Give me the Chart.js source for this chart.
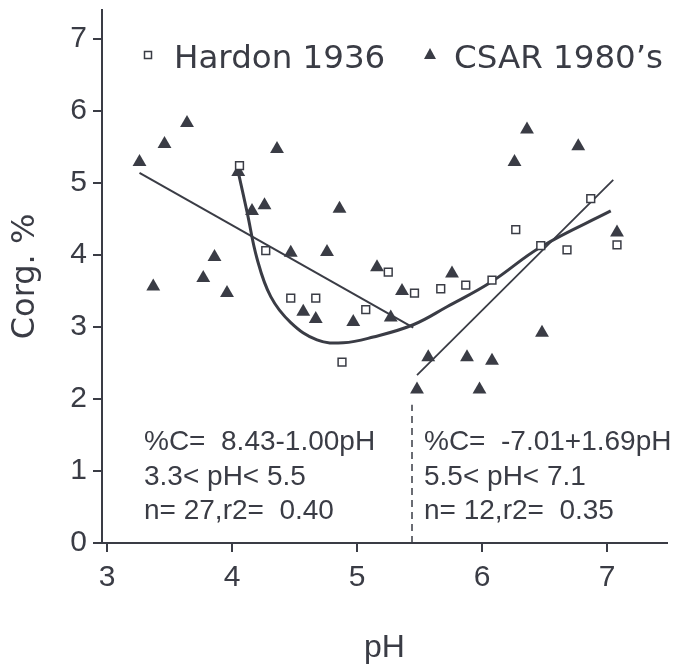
<!DOCTYPE html>
<html>
<head>
<meta charset="utf-8">
<script src="https://cdn.jsdelivr.net/npm/chart.js@4.4.1/dist/chart.umd.min.js"></script>
<style>
  html, body { margin: 0; padding: 0; background: #fff; }
  #wrap { width: 675px; height: 667px; }
</style>
</head>
<body>
<div id="wrap"><canvas id="chart" width="675" height="667"></canvas></div>
<script>
// Hardon 1936 (open squares)
const hardonPH = [4.06, 4.27, 4.47, 4.67, 4.88, 5.07, 5.25, 5.46, 5.67, 5.87, 6.08, 6.27, 6.47, 6.68, 6.87, 7.08];
const hardonC  = [5.24, 4.06, 3.40, 3.40, 2.51, 3.24, 3.76, 3.47, 3.53, 3.58, 3.65, 4.35, 4.13, 4.07, 4.78, 4.14];

// CSAR 1980's (filled triangles)
const csarPH = [3.26, 3.37, 3.46, 3.64, 3.77, 3.86, 3.96, 4.05, 4.16, 4.26, 4.36, 4.47, 4.57, 4.67, 4.76, 4.86,
                4.97, 5.16, 5.27, 5.36, 5.48, 5.57, 5.76, 5.88, 5.98, 6.08, 6.26, 6.36, 6.48, 6.77, 7.08];
const csarC  = [5.29, 3.56, 5.54, 5.83, 3.68, 3.97, 3.47, 5.15, 4.61, 4.69, 5.47, 4.03, 3.21, 3.11, 4.04, 4.64,
                3.07, 3.83, 3.13, 3.50, 2.13, 2.58, 3.74, 2.58, 2.13, 2.53, 5.29, 5.74, 2.92, 5.51, 4.31];

// regression lines (end points)
const fitLowPH  = [3.26, 5.45];
const fitLowC   = [5.14, 2.99];
const fitHighPH = [5.48, 7.05];
const fitHighC  = [2.33, 5.04];

// hand-drawn trend curve
const curvePH = [4.05, 4.12, 4.20, 4.31, 4.47, 4.68, 4.89, 5.13, 5.45, 5.72, 6.07, 6.47, 7.03];
const curveC  = [5.15, 4.60, 3.95, 3.42, 3.06, 2.82, 2.78, 2.86, 3.03, 3.28, 3.62, 4.11, 4.61];

// dashed divider
const dividerPH = [5.44, 5.44];
const dividerC  = [0, 1.92];

const xTicks = [3, 4, 5, 6, 7];
const yTicks = [0, 1, 2, 3, 4, 5, 6, 7];
const seriesNames = ['Hardon 1936', "CSAR 1980\u2019s"];
const leftNote  = ['%C=  8.43-1.00pH', '3.3< pH< 5.5', 'n= 27,r2=  0.40'];
const rightNote = ['%C=  -7.01+1.69pH', '5.5< pH< 7.1', 'n= 12,r2=  0.35'];

const ink = '#3a3c45';

function pts(xs, ys) {
    return xs.map((x, i) => ({ x, y: ys[i] }));
}

// legend and fit notes drawn on top of the plot
const notesPlugin = {
    id: 'notes',
    afterDraw(chart) {
        const ctx = chart.ctx;
        ctx.save();
        ctx.fillStyle = ink;
        ctx.strokeStyle = ink;

        // legend
        ctx.lineWidth = 1.5;
        ctx.strokeRect(144.5, 51.5, 7, 7);
        ctx.font = '32.5px "DejaVu Sans"';
        ctx.textBaseline = 'alphabetic';
        ctx.fillText(seriesNames[0], 174, 68);
        ctx.beginPath();
        ctx.moveTo(430, 48);
        ctx.lineTo(436, 59);
        ctx.lineTo(424, 59);
        ctx.closePath();
        ctx.fill();
        ctx.fillText(seriesNames[1], 454, 68);

        // notes
        ctx.font = '28px "Liberation Sans Narrow", "Liberation Sans"';
        leftNote.forEach((t, i) => ctx.fillText(t, 144, 450 + i * 34.5));
        rightNote.forEach((t, i) => ctx.fillText(t, 424, 450 + i * 34.5));
        ctx.restore();
    }
};

const ctx = document.getElementById('chart').getContext('2d');
new Chart(ctx, {
    type: 'scatter',
    data: {
        datasets: [
            {
                label: seriesNames[0],
                data: pts(hardonPH, hardonC),
                pointStyle: 'rect',
                pointRadius: 5.5,
                backgroundColor: '#fff',
                borderColor: ink,
                borderWidth: 1.5,
                order: 0
            },
            {
                label: seriesNames[1],
                data: pts(csarPH, csarC),
                pointStyle: 'triangle',
                pointRadius: 8,
                backgroundColor: ink,
                borderColor: ink,
                borderWidth: 0,
                order: 1
            },
            {
                data: pts(curvePH, curveC),
                showLine: true,
                tension: 0.4,
                pointRadius: 0,
                borderColor: ink,
                borderWidth: 3,
                order: 2
            },
            {
                data: pts(fitLowPH, fitLowC),
                showLine: true,
                pointRadius: 0,
                borderColor: ink,
                borderWidth: 2,
                order: 3
            },
            {
                data: pts(fitHighPH, fitHighC),
                showLine: true,
                pointRadius: 0,
                borderColor: ink,
                borderWidth: 1.8,
                order: 4
            },
            {
                data: pts(dividerPH, dividerC),
                showLine: true,
                pointRadius: 0,
                borderColor: ink,
                borderWidth: 1.5,
                borderDash: [7, 5],
                order: 5
            }
        ]
    },
    options: {
        responsive: false,
        devicePixelRatio: 1,
        animation: false,
        layout: { padding: { top: 10, right: 6, left: 0, bottom: 0 } },
        plugins: {
            legend: { display: false },
            tooltip: { enabled: false }
        },
        scales: {
            x: {
                type: 'linear',
                min: 2.96,
                max: 7.48,
                afterBuildTicks: (scale) => { scale.ticks = xTicks.map(v => ({ value: v })); },
                afterFit: (scale) => {
                    scale.height = 124;
                    scale.paddingLeft = 0;
                    scale.paddingRight = 0;
                },
                border: { display: true, color: ink, width: 2 },
                grid: { drawOnChartArea: false, drawTicks: true, tickLength: 9, color: ink, lineWidth: 2 },
                ticks: {
                    color: ink,
                    font: { family: '"Liberation Sans"', size: 30 },
                    padding: 8,
                    maxRotation: 0
                },
                title: {
                    display: true,
                    text: 'pH',
                    color: ink,
                    font: { family: '"Liberation Sans Narrow", "Liberation Sans"', size: 32 },
                    padding: { top: 0, bottom: 0 }
                }
            },
            y: {
                min: 0,
                max: 7.4,
                afterBuildTicks: (scale) => { scale.ticks = yTicks.map(v => ({ value: v })); },
                afterFit: (scale) => {
                    scale.width = 102;
                    scale.paddingTop = 0;
                    scale.paddingBottom = 0;
                },
                border: { display: true, color: ink, width: 2 },
                grid: { drawOnChartArea: false, drawTicks: true, tickLength: 9, color: ink, lineWidth: 2 },
                ticks: {
                    color: ink,
                    font: { family: '"Liberation Sans"', size: 30 },
                    padding: 6
                },
                title: {
                    display: true,
                    text: 'Corg. %',
                    color: ink,
                    font: { family: '"DejaVu Sans"', size: 32 },
                    padding: { top: 6, bottom: 0 }
                }
            }
        }
    },
    plugins: [notesPlugin]
});
</script>
</body>
</html>
